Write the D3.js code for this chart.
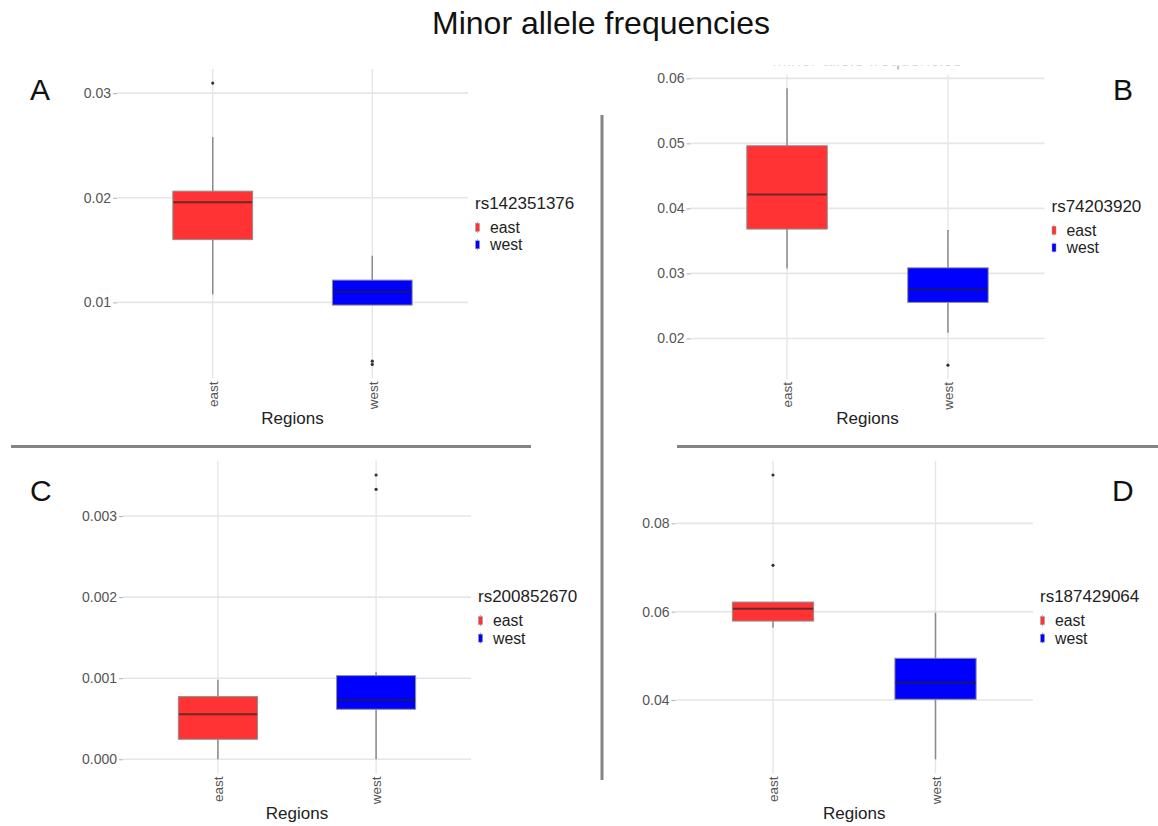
<!DOCTYPE html>
<html>
<head>
<meta charset="utf-8">
<script src="https://cdn.jsdelivr.net/npm/d3@7/dist/d3.min.js"></script>
<style>
  html, body { margin: 0; padding: 0; background: #fff; }
  svg { display: block; font-family: "Liberation Sans", Arial, Helvetica, sans-serif; }
</style>
</head>
<body>
<svg id="chart" width="1158" height="826"></svg>
<script>
// ---------------- data ----------------
const mainTitle = "Minor allele frequencies";
const regions = ["east", "west"];
const regionColors = ["#ff3333", "#0000ff"];
const snpIds = ["rs142351376", "rs74203920", "rs200852670", "rs187429064"];
const panelLetters = ["A", "B", "C", "D"];
const xAxisTitle = "Regions";

// five-number summaries: [lower whisker, Q1, median, Q3, upper whisker]
const eastStats = [
  [0.01077, 0.01600, 0.01958, 0.02063, 0.02580],
  [0.03077, 0.03682, 0.04215, 0.04963, 0.05846],
  [0.00000, 0.000247, 0.000556, 0.000773, 0.00098],
  [0.05638, 0.05787, 0.06068, 0.06217, 0.06217]
];
const westStats = [
  [0.00974, 0.00974, 0.01101, 0.01213, 0.01446],
  [0.02086, 0.02554, 0.02754, 0.03086, 0.03666],
  [0.00000, 0.000617, 0.000731, 0.001032, 0.001074],
  [0.02657, 0.04016, 0.04392, 0.04944, 0.05977]
];
const eastOutliers = [[0.03096], [], [], [0.09094, 0.07049]];
const westOutliers = [[0.00438, 0.00407], [0.01589], [0.003506, 0.00333], []];

const yTicks = [
  [0.01, 0.02, 0.03],
  [0.02, 0.03, 0.04, 0.05, 0.06],
  [0.000, 0.001, 0.002, 0.003],
  [0.04, 0.06, 0.08]
];
const yTickLabels = [
  ["0.01", "0.02", "0.03"],
  ["0.02", "0.03", "0.04", "0.05", "0.06"],
  ["0.000", "0.001", "0.002", "0.003"],
  ["0.04", "0.06", "0.08"]
];

// ---------------- layout ----------------
const layout = [
  { x0: 117, x1: 468, y0: 69, y1: 378.5, lx: 30, ly: 100 },
  { x0: 690.5, x1: 1044.5, y0: 74.5, y1: 379, lx: 1113, ly: 100 },
  { x0: 123, x1: 471, y0: 460.8, y1: 773.5, lx: 30, ly: 501 },
  { x0: 675.5, x1: 1033, y0: 460.8, y1: 773.5, lx: 1112, ly: 501 }
];

const svg = d3.select("#chart");

// main title
svg.append("text")
  .attr("x", 601).attr("y", 34)
  .attr("text-anchor", "middle")
  .attr("font-size", 32)
  .attr("fill", "#111")
  .text(mainTitle);

// remnant of a cropped subplot title above panel B
const clip = svg.append("defs").append("clipPath").attr("id", "cropTitle");
clip.append("rect").attr("x", 700).attr("y", 65.5).attr("width", 360).attr("height", 4);
svg.append("text")
  .attr("clip-path", "url(#cropTitle)")
  .attr("x", 867).attr("y", 66)
  .attr("text-anchor", "middle")
  .attr("font-size", 18)
  .attr("fill", "#b5b5b5")
  .text(mainTitle);

// separator lines
const sepColor = "#848484";
svg.append("line").attr("x1", 11).attr("x2", 531).attr("y1", 446.5).attr("y2", 446.5)
  .attr("stroke", sepColor).attr("stroke-width", 3);
svg.append("line").attr("x1", 677).attr("x2", 1158).attr("y1", 446.5).attr("y2", 446.5)
  .attr("stroke", sepColor).attr("stroke-width", 3);
svg.append("line").attr("x1", 602).attr("x2", 602).attr("y1", 115).attr("y2", 780)
  .attr("stroke", sepColor).attr("stroke-width", 3);

function drawPanel(i) {
  const L = layout[i];
  const stats = [eastStats[i], westStats[i]];
  const outs = [eastOutliers[i], westOutliers[i]];
  const all = stats.flat().concat(outs.flat());
  const lo = d3.min(all), hi = d3.max(all);
  const pad = (hi - lo) * 0.05;

  const y = d3.scaleLinear().domain([lo - pad, hi + pad]).range([L.y1, L.y0]);
  const x = d3.scalePoint().domain(regions).range([L.x0, L.x1]).padding(0.6);
  const step = x.step();
  const boxW = step * 0.5;

  const g = svg.append("g");

  // horizontal gridlines
  g.append("g")
    .selectAll("line.hgrid").data(yTicks[i]).join("line")
    .attr("x1", L.x0).attr("x2", L.x1)
    .attr("y1", d => y(d)).attr("y2", d => y(d))
    .attr("stroke", "#e6e6e6").attr("stroke-width", 1.6);
  // vertical gridlines
  g.append("g")
    .selectAll("line.vgrid").data(regions).join("line")
    .attr("x1", d => x(d)).attr("x2", d => x(d))
    .attr("y1", L.y0).attr("y2", L.y1)
    .attr("stroke", "#e6e6e6").attr("stroke-width", 1.4);

  // y axis
  const yAxis = d3.axisLeft(y).tickValues(yTicks[i])
    .tickFormat((d, k) => yTickLabels[i][k])
    .tickSize(4).tickPadding(2);
  const ya = g.append("g").attr("transform", `translate(${L.x0},0)`).call(yAxis);
  ya.select(".domain").remove();
  ya.selectAll(".tick line").attr("stroke", "#b0b0b0");
  ya.selectAll(".tick text").attr("fill", "#555").attr("font-size", 14)
    .attr("font-family", "'Liberation Sans', Arial, sans-serif");

  // x axis labels (rotated)
  const xAxis = d3.axisBottom(x).tickSize(0).tickPadding(0);
  const xa = g.append("g").attr("transform", `translate(0,${L.y1})`).call(xAxis);
  xa.select(".domain").remove();
  xa.selectAll(".tick text")
    .attr("fill", "#555").attr("font-size", 13.5)
    .attr("font-family", "'Liberation Sans', Arial, sans-serif")
    .attr("text-anchor", "end")
    .attr("transform", "translate(0,3) rotate(-90)")
    .attr("x", 0).attr("y", 0).attr("dy", "0.35em");

  // x axis title
  g.append("text")
    .attr("x", (L.x0 + L.x1) / 2).attr("y", L.y1 + 45)
    .attr("text-anchor", "middle").attr("font-size", 17).attr("fill", "#222")
    .text(xAxisTitle);

  // boxes
  regions.forEach((r, k) => {
    const s = stats[k];
    const cx = x(r);
    g.append("line").attr("x1", cx).attr("x2", cx)
      .attr("y1", y(s[4])).attr("y2", y(s[3]))
      .attr("stroke", "#8a8a8a").attr("stroke-width", 1.5);
    g.append("line").attr("x1", cx).attr("x2", cx)
      .attr("y1", y(s[1])).attr("y2", y(s[0]))
      .attr("stroke", "#8a8a8a").attr("stroke-width", 1.5);
    g.append("rect")
      .attr("x", cx - boxW / 2).attr("width", boxW)
      .attr("y", y(s[3])).attr("height", y(s[1]) - y(s[3]))
      .attr("fill", regionColors[k])
      .attr("stroke", "#8f8f8f").attr("stroke-width", 1);
    g.append("line")
      .attr("x1", cx - boxW / 2 + 0.5).attr("x2", cx + boxW / 2 - 0.5)
      .attr("y1", y(s[2])).attr("y2", y(s[2]))
      .attr("stroke", "#222").attr("stroke-opacity", 0.65).attr("stroke-width", 2);
    g.selectAll(null).data(outs[k]).join("circle")
      .attr("cx", cx).attr("cy", d => y(d)).attr("r", 1.6)
      .attr("fill", "#333");
  });

  // legend
  const lgx = L.x1 + 7;
  const cy = (L.y0 + L.y1) / 2;
  g.append("text").attr("x", lgx).attr("y", cy - 15)
    .attr("font-size", 17).attr("fill", "#222").text(snpIds[i]);
  regions.forEach((r, k) => {
    const ry = cy + 3.5 + k * 17.5;
    g.append("line").attr("x1", lgx + 2.5).attr("x2", lgx + 2.5)
      .attr("y1", ry - 5.5).attr("y2", ry + 5.5)
      .attr("stroke", "#aaa").attr("stroke-width", 1);
    g.append("rect").attr("x", lgx + 0.5).attr("width", 4)
      .attr("y", ry - 4).attr("height", 8)
      .attr("fill", regionColors[k]).attr("stroke", "#999").attr("stroke-width", 0.5);
    g.append("text").attr("x", lgx + 15).attr("y", ry + 5.5)
      .attr("font-size", 15.8).attr("fill", "#222").text(r);
  });

  // panel letter
  svg.append("text").attr("x", L.lx).attr("y", L.ly)
    .attr("font-size", 30).attr("fill", "#111").text(panelLetters[i]);
}

for (let i = 0; i < 4; i++) drawPanel(i);
</script>
</body>
</html>
